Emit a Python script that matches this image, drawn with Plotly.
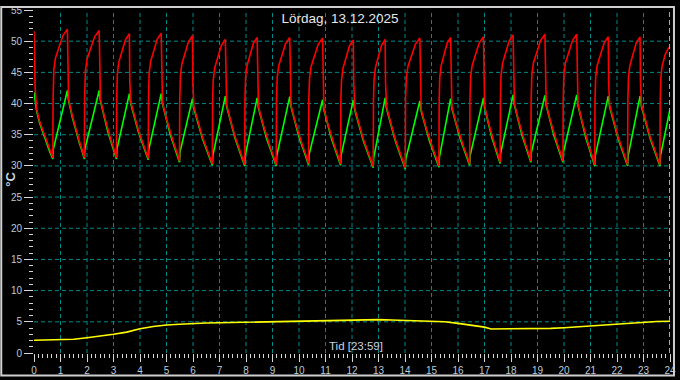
import plotly.graph_objects as go

# ---------------- data ----------------
title_text = "Lördag, 13.12.2025"
x_title = "Tid [23:59]"
y_title = "°C"
x_tick_values = list(range(0, 25))
y_tick_values = list(range(0, 60, 5))
grid_hours = list(range(1, 24))
grid_temps = list(range(5, 55, 5))
now_hour = 24

green_hours = [
    0.00, 0.06, 0.10, 0.21, 0.34, 0.46, 0.59,
    0.71, 0.73, 1.26, 1.305, 1.452, 1.58, 1.708, 1.81,
    1.90, 1.92, 2.46, 2.506, 2.655, 2.785, 2.915, 3.019,
    3.11, 3.13, 3.60, 3.65, 3.813, 3.955, 4.097, 4.211,
    4.31, 4.33, 4.80, 4.848, 5.007, 5.145, 5.283, 5.393,
    5.49, 5.51, 5.98, 6.033, 6.205, 6.355, 6.505, 6.625,
    6.73, 6.75, 7.22, 7.271, 7.439, 7.585, 7.731, 7.848,
    7.95, 7.97, 8.42, 8.47, 8.636, 8.78, 8.924, 9.039,
    9.14, 9.16, 9.65, 9.70, 9.863, 10.005, 10.147, 10.261,
    10.36, 10.38, 10.89, 10.938, 11.094, 11.23, 11.366, 11.475,
    11.57, 11.59, 12.05, 12.103, 12.275, 12.425, 12.575, 12.695,
    12.80, 12.82, 13.25, 13.303, 13.478, 13.63, 13.782, 13.904,
    14.01, 14.03, 14.56, 14.61, 14.776, 14.92, 15.064, 15.179,
    15.28, 15.30, 15.72, 15.77, 15.936, 16.08, 16.224, 16.339,
    16.44, 16.46, 16.96, 17.004, 17.149, 17.275, 17.401, 17.502,
    17.59, 17.61, 18.08, 18.127, 18.281, 18.415, 18.549, 18.656,
    18.75, 18.77, 19.28, 19.328, 19.484, 19.62, 19.756, 19.865,
    19.96, 19.98, 20.48, 20.528, 20.684, 20.82, 20.956, 21.065,
    21.16, 21.18, 21.67, 21.721, 21.889, 22.035, 22.181, 22.298,
    22.40, 22.42, 22.87, 22.923, 23.095, 23.245, 23.395, 23.515,
    23.62, 23.64, 24.0,
]
green_temp = [
    41.8, 40.0, 38.8, 36.9, 35.3, 33.8, 32.3,
    31.1, 32.7, 42.1, 40.45, 37.7, 35.5, 33.74, 32.42,
    31.1, 32.7, 42.1, 40.45, 37.7, 35.5, 33.74, 32.42,
    31.1, 32.7, 41.6, 40.01, 37.36, 35.24, 33.54, 32.27,
    31.0, 32.6, 41.6, 39.95, 37.2, 35.0, 33.24, 31.92,
    30.6, 32.2, 40.8, 39.2, 36.52, 34.38, 32.67, 31.38,
    30.1, 31.7, 41.2, 39.52, 36.72, 34.48, 32.69, 31.34,
    30.0, 31.6, 40.9, 39.26, 36.54, 34.36, 32.62, 31.31,
    30.0, 31.6, 41.1, 39.46, 36.74, 34.56, 32.82, 31.51,
    30.2, 31.8, 40.6, 39.02, 36.4, 34.3, 32.62, 31.36,
    30.1, 31.7, 40.6, 38.96, 36.24, 34.06, 32.32, 31.01,
    29.7, 31.3, 40.9, 39.19, 36.34, 34.06, 32.24, 30.87,
    29.5, 31.1, 40.4, 38.81, 36.16, 34.04, 32.34, 31.07,
    29.8, 31.4, 40.8, 39.2, 36.52, 34.38, 32.67, 31.38,
    30.1, 31.7, 40.9, 39.32, 36.7, 34.6, 32.92, 31.66,
    30.4, 32.0, 41.4, 39.78, 37.08, 34.92, 33.19, 31.9,
    30.6, 32.2, 41.3, 39.7, 37.02, 34.88, 33.17, 31.88,
    30.6, 32.2, 41.4, 39.69, 36.84, 34.56, 32.74, 31.37,
    30.0, 31.6, 41.2, 39.52, 36.72, 34.48, 32.69, 31.34,
    30.0, 31.6, 41.2, 39.52, 36.72, 34.48, 32.69, 31.34,
    30.0, 31.6, 39.1,
]

red_hours = [
    0.00, 0.01, 0.04, 0.08, 0.10, 0.21, 0.34, 0.46, 0.59,
    0.71, 0.72, 0.748, 0.809, 0.957, 1.09, 1.26, 1.275, 1.305, 1.452, 1.58, 1.708, 1.81,
    1.90, 1.91, 1.939, 2.001, 2.152, 2.286, 2.46, 2.475, 2.506, 2.655, 2.785, 2.915, 3.019,
    3.11, 3.12, 3.144, 3.198, 3.33, 3.448, 3.60, 3.615, 3.65, 3.813, 3.955, 4.097, 4.211,
    4.31, 4.32, 4.344, 4.398, 4.53, 4.648, 4.80, 4.815, 4.848, 5.007, 5.145, 5.283, 5.393,
    5.49, 5.50, 5.524, 5.578, 5.71, 5.828, 5.98, 5.995, 6.033, 6.205, 6.355, 6.505, 6.625,
    6.73, 6.74, 6.764, 6.818, 6.95, 7.068, 7.22, 7.235, 7.271, 7.439, 7.585, 7.731, 7.848,
    7.95, 7.96, 7.983, 8.035, 8.162, 8.274, 8.42, 8.435, 8.47, 8.636, 8.78, 8.924, 9.039,
    9.14, 9.15, 9.176, 9.232, 9.37, 9.492, 9.65, 9.665, 9.70, 9.863, 10.005, 10.147, 10.261,
    10.36, 10.37, 10.397, 10.455, 10.599, 10.726, 10.89, 10.905, 10.938, 11.094, 11.23, 11.366, 11.475,
    11.57, 11.58, 11.604, 11.656, 11.786, 11.901, 12.05, 12.065, 12.103, 12.275, 12.425, 12.575, 12.695,
    12.80, 12.81, 12.832, 12.881, 13.003, 13.111, 13.25, 13.265, 13.303, 13.478, 13.63, 13.782, 13.904,
    14.01, 14.02, 14.049, 14.109, 14.258, 14.39, 14.56, 14.575, 14.61, 14.776, 14.92, 15.064, 15.179,
    15.28, 15.29, 15.311, 15.359, 15.478, 15.584, 15.72, 15.735, 15.77, 15.936, 16.08, 16.224, 16.339,
    16.44, 16.45, 16.476, 16.534, 16.674, 16.799, 16.96, 16.975, 17.004, 17.149, 17.275, 17.401, 17.502,
    17.59, 17.60, 17.624, 17.678, 17.81, 17.928, 18.08, 18.095, 18.127, 18.281, 18.415, 18.549, 18.656,
    18.75, 18.76, 18.787, 18.845, 18.989, 19.116, 19.28, 19.295, 19.328, 19.484, 19.62, 19.756, 19.865,
    19.96, 19.97, 19.996, 20.054, 20.194, 20.319, 20.48, 20.495, 20.528, 20.684, 20.82, 20.956, 21.065,
    21.16, 21.17, 21.196, 21.252, 21.39, 21.512, 21.67, 21.685, 21.721, 21.889, 22.035, 22.181, 22.298,
    22.40, 22.41, 22.433, 22.485, 22.612, 22.724, 22.87, 22.885, 22.923, 23.095, 23.245, 23.395, 23.515,
    23.62, 23.63, 23.655, 23.70, 23.82, 23.93, 24.0,
]
red_temp = [
    51.6, 48.6, 42.8, 40.2, 39.05, 37.15, 35.55, 34.05, 32.55,
    31.3, 40.6, 45.4, 47.3, 49.4, 50.9, 51.9, 43.5, 40.7, 37.95, 35.75, 33.99, 32.67,
    31.3, 40.6, 45.2, 47.1, 49.2, 50.7, 51.7, 43.5, 40.7, 37.95, 35.75, 33.99, 32.67,
    31.3, 40.6, 44.7, 46.6, 48.7, 50.2, 51.2, 43.5, 40.26, 37.61, 35.49, 33.79, 32.52,
    31.2, 40.6, 44.8, 46.7, 48.8, 50.3, 51.3, 43.5, 40.2, 37.45, 35.25, 33.49, 32.17,
    30.8, 40.6, 44.4, 46.3, 48.4, 49.9, 50.9, 43.5, 39.45, 36.77, 34.63, 32.92, 31.63,
    30.3, 40.6, 43.8, 45.7, 47.8, 49.3, 50.3, 43.5, 39.77, 36.97, 34.73, 32.94, 31.59,
    30.2, 40.6, 44.1, 46.0, 48.1, 49.6, 50.6, 43.5, 39.51, 36.79, 34.61, 32.87, 31.56,
    30.2, 40.6, 44.1, 46.0, 48.1, 49.6, 50.6, 43.5, 39.71, 36.99, 34.81, 33.07, 31.76,
    30.4, 40.6, 44.0, 45.9, 48.0, 49.5, 50.5, 43.5, 39.27, 36.65, 34.55, 32.87, 31.61,
    30.3, 40.6, 43.7, 45.6, 47.7, 49.2, 50.2, 43.5, 39.21, 36.49, 34.31, 32.57, 31.26,
    29.9, 40.6, 43.8, 45.7, 47.8, 49.3, 50.3, 43.5, 39.44, 36.59, 34.31, 32.49, 31.12,
    29.7, 40.6, 44.0, 45.9, 48.0, 49.5, 50.5, 43.5, 39.06, 36.41, 34.29, 32.59, 31.32,
    30.0, 40.6, 44.1, 46.0, 48.1, 49.6, 50.6, 43.5, 39.45, 36.77, 34.63, 32.92, 31.63,
    30.3, 40.6, 44.2, 46.1, 48.2, 49.7, 50.7, 43.5, 39.57, 36.95, 34.85, 33.17, 31.91,
    30.6, 40.6, 44.5, 46.4, 48.5, 50.0, 51.0, 43.5, 40.03, 37.33, 35.17, 33.44, 32.15,
    30.8, 40.6, 44.6, 46.5, 48.6, 50.1, 51.1, 43.5, 39.95, 37.27, 35.13, 33.42, 32.13,
    30.8, 40.6, 44.6, 46.5, 48.6, 50.1, 51.1, 43.5, 39.94, 37.09, 34.81, 32.99, 31.62,
    30.2, 40.6, 44.2, 46.1, 48.2, 49.7, 50.7, 43.5, 39.77, 36.97, 34.73, 32.94, 31.59,
    30.2, 40.6, 44.2, 46.1, 48.2, 49.7, 50.7, 43.5, 39.77, 36.97, 34.73, 32.94, 31.59,
    30.2, 40.6, 44.0, 46.0, 47.9, 48.8, 49.1,
]

yellow_hours = [
    0, 0.5, 1, 1.5, 2, 2.5, 3, 3.5, 4, 4.5, 5, 5.5, 6, 6.5, 7, 7.5, 8, 8.5, 9, 9.5,
    10, 10.5, 11, 11.5, 12, 12.5, 13, 13.5, 14, 14.5, 15, 15.5, 16, 16.5, 17, 17.25,
    17.5, 18, 18.5, 19, 19.5, 20, 20.5, 21, 21.5, 22, 22.5, 23, 23.5, 24,
]
yellow_temp = [
    2.05, 2.1, 2.25, 2.2, 2.45, 2.7, 3.0, 3.35, 3.9, 4.25, 4.5, 4.6, 4.75, 4.8, 4.85, 4.9, 4.95, 5.0, 5.05, 5.05,
    5.1, 5.1, 5.15, 5.2, 5.25, 5.3, 5.35, 5.3, 5.25, 5.15, 5.1, 5.0, 4.75, 4.45, 4.15, 3.85,
    3.85, 3.95, 3.95, 3.9, 3.95, 4.05, 4.2, 4.4, 4.55, 4.7, 4.85, 4.95, 5.05, 5.1,
]

# ---------------- figure ----------------
W, H = 680, 380
ML, MR, MT, MB = 34, 5, 4, 24
label_col = "#bccad8"
tick_col = "#d6d6d6"
grid_col = "#008b8b"
FONT = "Liberation Sans, Arial, sans-serif"

fig = go.Figure()
fig.add_trace(go.Scatter(x=green_hours, y=green_temp, mode="lines",
                         line=dict(color="#00ff00", width=1.6), hoverinfo="skip"))
fig.add_trace(go.Scatter(x=red_hours, y=red_temp, mode="lines",
                         line=dict(color="#ff0000", width=1.6), hoverinfo="skip"))
fig.add_trace(go.Scatter(x=yellow_hours, y=yellow_temp, mode="lines",
                         line=dict(color="#ffff00", width=1.6), hoverinfo="skip"))

shapes = []
for h in grid_hours:
    shapes.append(dict(type="line", xref="x", yref="y", x0=h, x1=h, y0=0, y1=55,
                       line=dict(color=grid_col, width=1, dash="4px,3px"), layer="below"))
for v in grid_temps:
    shapes.append(dict(type="line", xref="x", yref="y", x0=0, x1=24, y0=v, y1=v,
                       line=dict(color=grid_col, width=1, dash="4px,3px"), layer="below"))
# current-time marker
shapes.append(dict(type="line", xref="x", yref="y", x0=now_hour, x1=now_hour, y0=0, y1=55,
                   line=dict(color="#00e8ff", width=2, dash="5px,3px"), layer="above"))
# outer frame
pw, ph = W - ML - MR, H - MT - MB
shapes.append(dict(type="rect", xref="paper", yref="paper",
                   x0=(1 - ML) / pw, x1=(W - 1 - ML) / pw,
                   y0=(H - MB - (H - 1)) / ph, y1=(H - MB - 1) / ph,
                   line=dict(color="#cfcfcf", width=2), fillcolor="rgba(0,0,0,0)"))

fig.update_layout(
    width=W, height=H,
    margin=dict(l=ML, r=MR, t=MT, b=MB, pad=0),
    paper_bgcolor="#000000", plot_bgcolor="#000000",
    showlegend=False,
    font=dict(family=FONT, color=label_col, size=9),
    shapes=shapes,
    title=dict(text=title_text, x=0.5, xref="container", xanchor="center",
               y=1 - 18 / H, yref="container", yanchor="middle",
               font=dict(size=13.5, color="#e8e8e8", family=FONT)),
    annotations=[
        dict(text=x_title, xref="paper", yref="paper", x=(359 - ML) / pw, y=(H - MB - 349) / ph,
             xanchor="center", yanchor="middle", showarrow=False,
             font=dict(size=11.5, color="#c8d4e0", family=FONT)),
        dict(text="<b>" + y_title + "</b>", xref="paper", yref="paper",
             x=(10 - ML) / pw, y=(H - MB - 178) / ph,
             xanchor="center", yanchor="middle", showarrow=False, textangle=-90,
             font=dict(size=13, color="#c8d4e0", family=FONT)),
    ],
)
fig.update_xaxes(range=[0, 24], tickmode="array", tickvals=x_tick_values,
                 ticktext=[str(v) for v in x_tick_values],
                 ticks="outside", ticklen=8, tickwidth=1, tickcolor=tick_col,
                 minor=dict(dtick=1 / 6, tick0=0, ticks="outside", ticklen=4,
                            tickcolor=tick_col, showgrid=False),
                 showgrid=False, zeroline=False, showline=False,
                 ticklabeloverflow="allow",
                 tickfont=dict(size=10, color=label_col, family=FONT))
fig.update_yaxes(range=[0, 55], tickmode="array", tickvals=y_tick_values,
                 ticktext=[str(v) for v in y_tick_values],
                 ticks="outside", ticklen=9, tickwidth=1, tickcolor=tick_col,
                 minor=dict(dtick=1, tick0=0, ticks="outside", ticklen=4,
                            tickcolor=tick_col, showgrid=False),
                 showgrid=False, zeroline=False, showline=False,
                 ticklabeloverflow="allow",
                 tickfont=dict(size=10, color=label_col, family=FONT))

fig.write_html("out.html")
